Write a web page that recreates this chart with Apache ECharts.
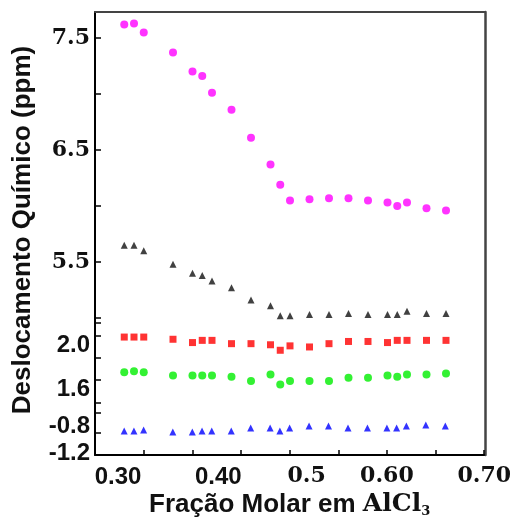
<!DOCTYPE html>
<html>
<head>
<meta charset="utf-8">
<script src="https://cdn.jsdelivr.net/npm/echarts@6/dist/echarts.min.js"></script>
<style>
  html, body { margin: 0; padding: 0; background: #fff; }
  #chart { width: 514px; height: 519px; }
</style>
</head>
<body>
<div id="chart"></div>
<script>
// fração molar de AlCl3 (comum a todas as séries)
const xFrac = [0.33, 0.34, 0.35, 0.38, 0.40, 0.41, 0.42, 0.44, 0.46, 0.48, 0.49, 0.50, 0.52, 0.54, 0.56, 0.58, 0.60, 0.61, 0.62, 0.64, 0.66]

// deslocamentos químicos (ppm)
const magenta = [7.62, 7.63, 7.55, 7.37, 7.20, 7.16, 7.01, 6.86, 6.61, 6.37, 6.19, 6.05, 6.06, 6.07, 6.07, 6.05, 6.03, 6.00, 6.03, 5.98, 5.96]
const black = [5.65, 5.65, 5.60, 5.48, 5.40, 5.38, 5.33, 5.27, 5.16, 5.11, 5.02, 5.02, 5.03, 5.03, 5.04, 5.03, 5.03, 5.03, 5.06, 5.04, 5.04]
const red = [1.99, 1.99, 1.99, 1.97, 1.94, 1.96, 1.96, 1.93, 1.93, 1.92, 1.87, 1.91, 1.90, 1.93, 1.95, 1.95, 1.94, 1.96, 1.96, 1.96, 1.96]
const green = [1.67, 1.68, 1.67, 1.64, 1.64, 1.64, 1.64, 1.63, 1.59, 1.65, 1.56, 1.59, 1.59, 1.59, 1.62, 1.62, 1.64, 1.63, 1.65, 1.65, 1.66]
const blue = [-0.98, -0.98, -0.97, -0.99, -0.99, -0.98, -0.98, -0.98, -0.95, -0.95, -0.98, -0.95, -0.93, -0.93, -0.95, -0.95, -0.95, -0.95, -0.93, -0.92, -0.93]

// rótulos dos eixos
const xTickLabels = [0.30, 0.40, 0.50, 0.60, 0.70]
const xTickText = ['0.30', '0.40', '0.5', '0.60', '0.70']
const yTopLabels = [7.5, 6.5, 5.5]
const yMidLabels = [2.0, 1.6]
const yBotLabels = [-0.8, -1.2]

const SANS = '"Liberation Sans", Arial, sans-serif'
const SERIF = '"DejaVu Serif", serif'

// deslocamento dos rótulos (como no original, que não estão alinhados aos ticks)
const xLabelShift = [46, 52, 34, 0, 0]
const xLabelFont = [SANS, SANS, SERIF, SERIF, SERIF]
const xRich = {}
xLabelShift.forEach((p, i) => {
  xRich['l' + i] = {
    fontFamily: xLabelFont[i],
    fontWeight: 'bold',
    fontSize: xLabelFont[i] === SANS ? 24 : 22,
    color: '#111',
    padding: [0, 0, 0, p]
  }
})

const findIdx = (arr, v) => arr.findIndex(a => Math.abs(a - v) < 1e-6)

const chart = echarts.init(document.getElementById('chart'))

const pts = (ys) => xFrac.map((x, i) => [x, ys[i]])

// eixo y da esquerda, um por trecho (eixo quebrado)
const leftAxis = (gridIndex, min, max, ticks, labels, font, size, pads) => {
  const rich = {}
  labels.forEach((v, i) => {
    rich['y' + i] = { fontFamily: font, fontWeight: 'bold', fontSize: size, color: '#111', padding: [pads[i], 0, 0, 0] }
  })
  return {
    type: 'value', gridIndex, position: 'left', min, max,
    axisLine: { show: true, onZero: false, lineStyle: { color: '#000', width: 2 } },
    axisTick: { show: true, inside: true, length: 6, customValues: ticks, lineStyle: { color: '#000', width: 1.5 } },
    axisLabel: {
      customValues: labels,
      margin: 5,
      hideOverlap: false,
      formatter: v => {
        const i = findIdx(labels, v)
        return i < 0 ? '' : '{y' + i + '|' + labels[i].toFixed(1) + '}'
      },
      rich
    },
    splitLine: { show: false }
  }
}

const hiddenX = (gridIndex) => ({
  type: 'value', gridIndex, min: 0.3, max: 0.7,
  axisLine: { show: false, onZero: false }, axisTick: { show: false },
  axisLabel: { show: false }, splitLine: { show: false }
})

const option = {
  animation: false,
  backgroundColor: '#fff',
  grid: [
    { left: 95, right: 29, top: 12, height: 308 },
    { left: 95, right: 29, top: 320, height: 83 },
    { left: 95, right: 29, top: 403, height: 52 },
    // moldura (topo e lado direito) sobre toda a área do gráfico
    { left: 95, right: 29, top: 12, height: 443 }
  ],
  xAxis: [
    hiddenX(0),
    hiddenX(1),
    {
      type: 'value', gridIndex: 2, position: 'bottom', min: 0.3, max: 0.7, interval: 0.05,
      axisLine: { show: true, onZero: false, lineStyle: { color: '#000', width: 2 } },
      axisTick: { show: true, inside: true, length: 5, lineStyle: { color: '#000', width: 1.5 } },
      axisLabel: {
        customValues: xTickLabels,
        margin: 10,
        hideOverlap: false,
        showMinLabel: true,
        showMaxLabel: true,
        formatter: v => {
          const i = findIdx(xTickLabels, v)
          return i < 0 ? '' : '{l' + i + '|' + xTickText[i] + '}'
        },
        rich: xRich
      },
      splitLine: { show: false },
      name: '{a|Fração Molar em }{b|AlCl}{s|3}',
      nameLocation: 'middle',
      nameGap: 36,
      nameMoveOverlap: false,
      nameTextStyle: {
        rich: {
          a: { fontFamily: SANS, fontWeight: 'bold', fontSize: 26, color: '#111' },
          b: { fontFamily: SERIF, fontWeight: 'bold', fontSize: 25, color: '#111' },
          s: { fontFamily: SERIF, fontWeight: 'bold', fontSize: 13, color: '#111', padding: [14, 0, 0, 0] }
        }
      }
    },
    {
      type: 'value', gridIndex: 3, position: 'top', min: 0, max: 1,
      axisLine: { show: true, onZero: false, lineStyle: { color: '#444', width: 2 } },
      axisTick: { show: false }, axisLabel: { show: false }, splitLine: { show: false }
    }
  ],
  yAxis: [
    leftAxis(0, 4.982, 7.732, [7.5, 7.0, 6.5, 6.0, 5.5, 5.0], yTopLabels, SERIF, 22, [0, 0, 0]),
    leftAxis(1, 1.391, 2.145, [2.118, 2.0, 1.8, 1.6], yMidLabels, SANS, 24, [19, 19]),
    leftAxis(2, -1.22, -0.7, [-0.7, -0.8, -1.0], yBotLabels, SANS, 24, [26, 0]),
    {
      type: 'value', gridIndex: 3, position: 'right', min: 0, max: 1,
      axisLine: { show: true, onZero: false, lineStyle: { color: '#444', width: 2.5 } },
      axisTick: { show: false }, axisLabel: { show: false }, splitLine: { show: false }
    }
  ],
  graphic: [
    {
      type: 'text',
      x: 23, y: 230,
      rotation: Math.PI / 2,
      style: {
        text: 'Deslocamento Químico (ppm)',
        font: 'bold 26px "Liberation Sans", Arial, sans-serif',
        fill: '#111',
        textAlign: 'center',
        textVerticalAlign: 'middle'
      }
    }
  ],
  series: [
    { name: 'magenta', type: 'scatter', xAxisIndex: 0, yAxisIndex: 0, symbol: 'circle', symbolSize: 8, itemStyle: { color: '#ff00ff' }, data: pts(magenta) },
    { name: 'preto', type: 'scatter', xAxisIndex: 0, yAxisIndex: 0, symbol: 'triangle', symbolSize: 7, itemStyle: { color: '#111' }, data: pts(black) },
    { name: 'vermelho', type: 'scatter', xAxisIndex: 1, yAxisIndex: 1, symbol: 'rect', symbolSize: 7, itemStyle: { color: '#ff0000' }, data: pts(red) },
    { name: 'verde', type: 'scatter', xAxisIndex: 1, yAxisIndex: 1, symbol: 'circle', symbolSize: 8, itemStyle: { color: '#00ee00' }, data: pts(green) },
    { name: 'azul', type: 'scatter', xAxisIndex: 2, yAxisIndex: 2, symbol: 'triangle', symbolSize: 7, itemStyle: { color: '#0000ff' }, data: pts(blue) }
  ]
}

chart.setOption(option)
</script>
</body>
</html>
